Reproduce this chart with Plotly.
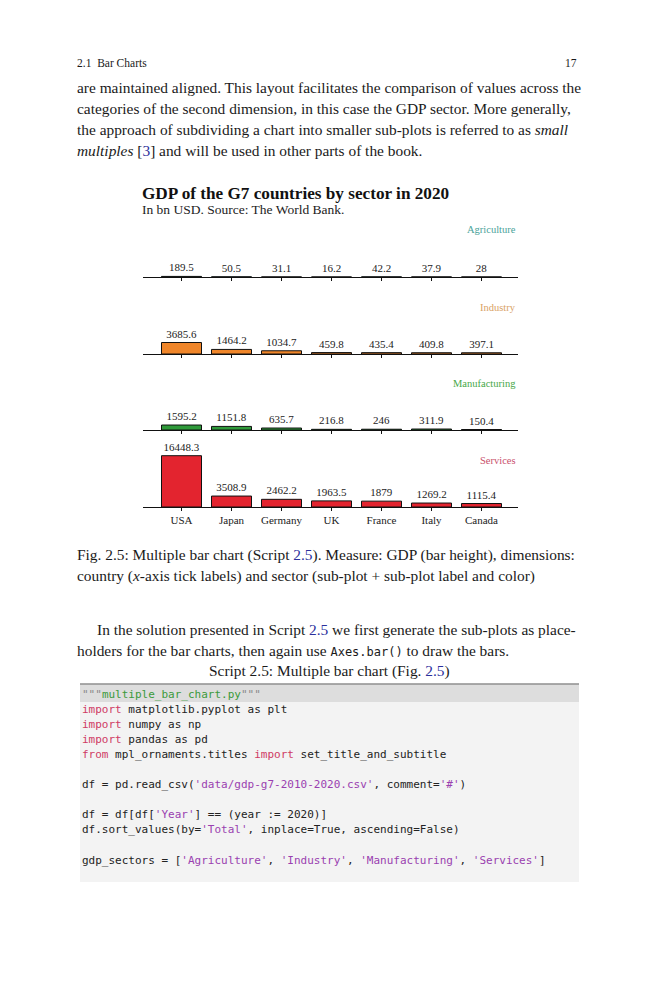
import plotly.graph_objects as go

# ---------------- data ----------------
countries = ["USA", "Japan", "Germany", "UK", "France", "Italy", "Canada"]
sectors = ["Agriculture", "Industry", "Manufacturing", "Services"]
agriculture = [189.5, 50.5, 31.1, 16.2, 42.2, 37.9, 28]
industry = [3685.6, 1464.2, 1034.7, 459.8, 435.4, 409.8, 397.1]
manufacturing = [1595.2, 1151.8, 635.7, 216.8, 246, 311.9, 150.4]
services = [16448.3, 3508.9, 2462.2, 1963.5, 1879, 1269.2, 1115.4]
values = [agriculture, industry, manufacturing, services]

bar_colors = ["#3f9e94", "#f0862a", "#2f9a3a", "#e3242f"]
label_colors = ["#4aa39a", "#d9a265", "#48a848", "#c9506c"]

W, H = 659, 1000
SERIF = "Liberation Serif"
MONO = "DejaVu Sans Mono"


def px(x):
    return x / W


def py(y):
    return 1 - y / H


fig = go.Figure()

baselines = [277, 354, 430, 507]
sub_h = 60
ymax = sub_h / (51.3 / 16448.3)
x_dom = [px(143), px(518)]

for i, (name, vals) in enumerate(zip(sectors, values)):
    n = "" if i == 0 else str(i + 1)
    fig.add_trace(go.Bar(
        x=countries, y=vals, xaxis="x" + n, yaxis="y" + n,
        width=0.8,
        marker=dict(color=bar_colors[i], line=dict(color="#111111", width=1)),
        text=[f"{v:g}" for v in vals], textposition="outside",
        constraintext="none", cliponaxis=False,
        textfont=dict(family=SERIF, size=11, color="#222222"),
        showlegend=False, hoverinfo="skip",
    ))
    b = baselines[i]
    fig.layout["xaxis" + n] = dict(
        domain=x_dom, anchor="y" + n, type="category",
        range=[-0.77, 6.73], showline=True, linecolor="#111111", linewidth=1.2,
        ticks="outside", ticklen=3, tickwidth=1, tickcolor="#111111",
        showgrid=False, zeroline=False, fixedrange=True,
        showticklabels=(i == 3),
        tickfont=dict(family=SERIF, size=11, color="#222222"),
    )
    fig.layout["yaxis" + n] = dict(
        domain=[py(b), py(b - sub_h)], anchor="x" + n,
        range=[0, ymax], visible=False, showgrid=False, zeroline=False,
    )
    fig.add_annotation(
        text=name, xref=("x" + n) + " domain", yref=("y" + n) + " domain",
        x=1, y=47 / sub_h, xanchor="right", yanchor="middle", showarrow=False,
        font=dict(family=SERIF, size=10.5, color=label_colors[i]),
    )

annots = []


def txt(s, x, y, size=15.4, anchor="left", family=SERIF, color="#1a1a1a"):
    annots.append(dict(
        text=s, x=px(x), y=py(y), xref="paper", yref="paper",
        xanchor=anchor, yanchor="middle", showarrow=False,
        font=dict(family=family, size=size, color=color),
    ))


BLUE = "#2b2f9c"

# title / subtitle of the chart
txt("<b>GDP of the G7 countries by sector in 2020</b>", 140, 193, size=17.2, color="#111111")
txt("In bn USD. Source: The World Bank.", 140, 210, size=13.5, color="#222222")

# page header
txt("2.1  Bar Charts", 75, 63, size=11.5)
txt("17", 579, 63, size=11.5, anchor="right")

# body text
body = [
    "are maintained aligned. This layout facilitates the comparison of values across the",
    "categories of the second dimension, in this case the GDP sector. More generally,",
    "the approach of subdividing a chart into smaller sub-plots is referred to as <i>small</i>",
    f"<i>multiples</i> [<span style='color:{BLUE}'>3</span>] and will be used in other parts of the book.",
]
for k, line in enumerate(body):
    txt(line, 75, 88 + k * 20.8)

txt(f"Fig. 2.5: Multiple bar chart (Script <span style='color:{BLUE}'>2.5</span>). "
    "Measure: GDP (bar height), dimensions:", 75, 555)
txt("country (<i>x</i>-axis tick labels) and sector (sub-plot + sub-plot label and color)", 75, 576)

txt(f"In the solution presented in Script <span style='color:{BLUE}'>2.5</span> "
    "we first generate the sub-plots as place-", 95, 629)
txt("holders for the bar charts, then again use "
    f"<span style='font-family:{MONO};font-size:12px'>Axes.bar()</span> to draw the bars.", 75, 650)

txt(f"Script 2.5: Multiple bar chart (Fig. <span style='color:{BLUE}'>2.5</span>)", 329, 671, anchor="center")

# code listing
KW = "#cf3a64"
ST = "#9a3fb0"
GR = "#3b9a3b"
QG = "#8a8a8a"


def kw(s):
    return f"<span style='color:{KW}'>{s}</span>"


def st(s):
    return f"<span style='color:{ST}'>{s}</span>"


code = [
    f"<span style='color:{QG}'>\"\"\"</span><span style='color:{GR}'>multiple_bar_chart.py</span>"
    f"<span style='color:{QG}'>\"\"\"</span>",
    kw("import") + " matplotlib.pyplot as plt",
    kw("import") + " numpy as np",
    kw("import") + " pandas as pd",
    kw("from") + " mpl_ornaments.titles " + kw("import") + " set_title_and_subtitle",
    "",
    "df = pd.read_csv(" + st("'data/gdp-g7-2010-2020.csv'") + ", comment=" + st("'#'") + ")",
    "",
    "df = df[df[" + st("'Year'") + "] == (year := 2020)]",
    "df.sort_values(by=" + st("'Total'") + ", inplace=True, ascending=False)",
    "",
    "gdp_sectors = [" + st("'Agriculture'") + ", " + st("'Industry'") + ", "
    + st("'Manufacturing'") + ", " + st("'Services'") + "]",
]
for k, line in enumerate(code):
    if line:
        txt(line, 80, 694 + k * 15.1, size=11, family=MONO, color="#222222")

shapes = [
    dict(type="rect", xref="paper", yref="paper", x0=px(80), x1=px(579), y0=py(882), y1=py(684),
         fillcolor="#f3f3f3", line=dict(width=0), layer="below"),
    dict(type="rect", xref="paper", yref="paper", x0=px(80), x1=px(579), y0=py(702), y1=py(685),
         fillcolor="#dddddd", line=dict(width=0), layer="below"),
    dict(type="line", xref="paper", yref="paper", x0=px(80), x1=px(579), y0=py(684), y1=py(684),
         line=dict(color="#555555", width=1)),
]

fig.update_layout(
    width=W, height=H, margin=dict(l=0, r=0, t=0, b=0),
    paper_bgcolor="white", plot_bgcolor="white",
    font=dict(family=SERIF, color="#222222"),
    bargap=0.2, showlegend=False,
    shapes=shapes,
)
for a in annots:
    fig.add_annotation(**a)

fig.write_html("out.html", config={"displayModeBar": False},
               post_script="document.body.style.margin='0px';")
